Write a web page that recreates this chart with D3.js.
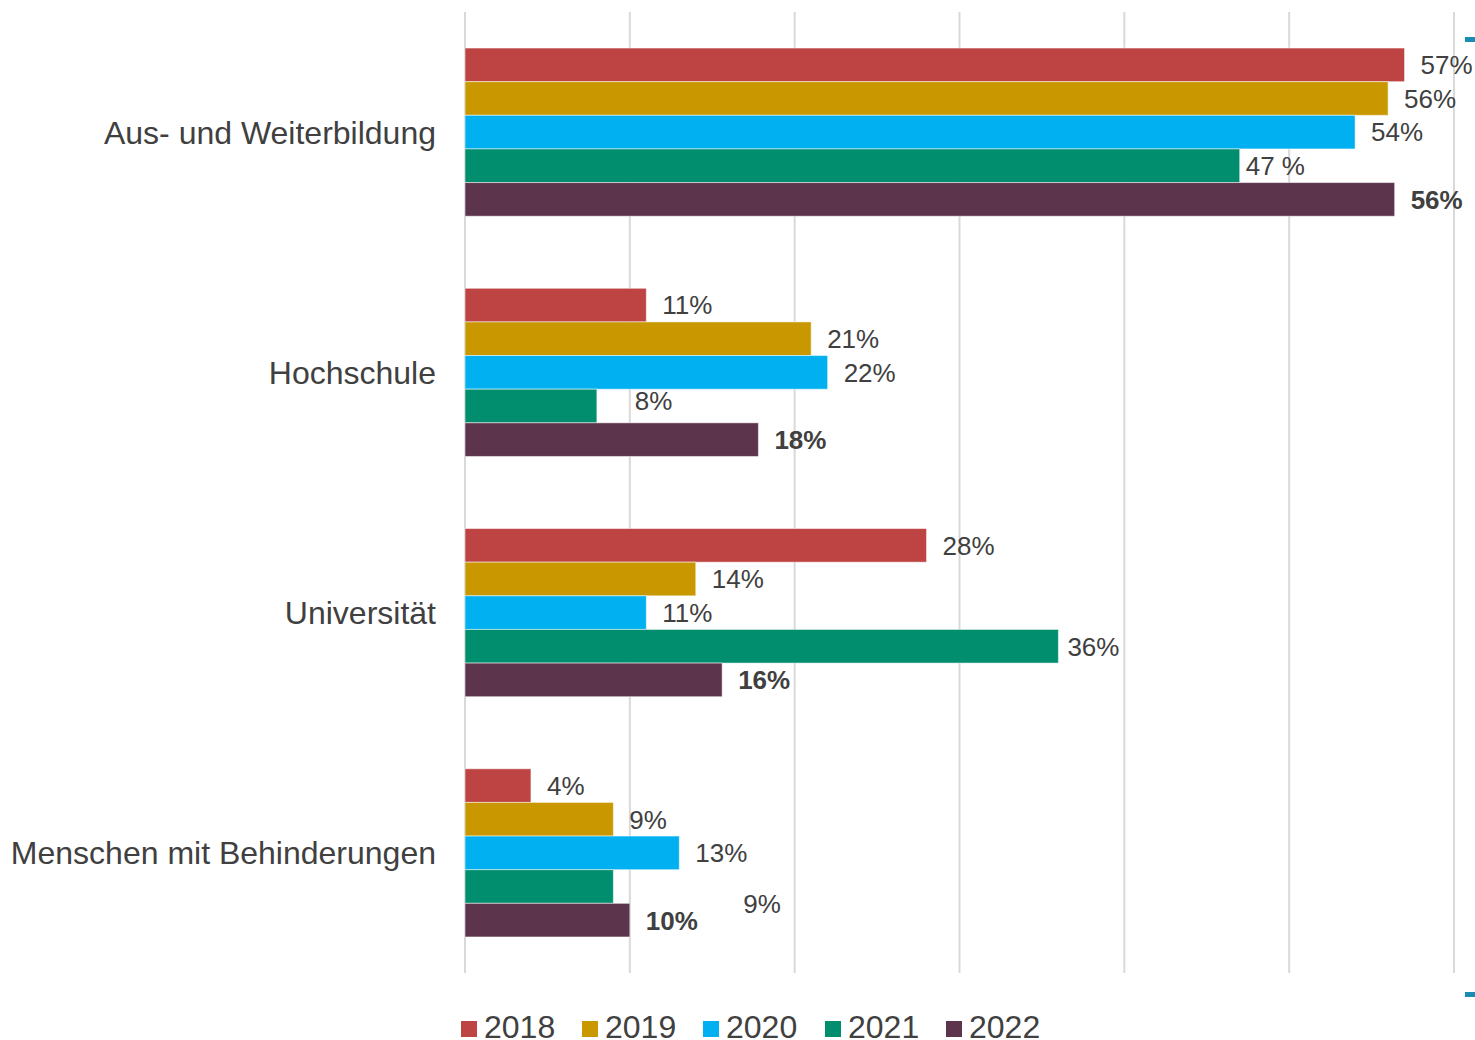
<!DOCTYPE html>
<html>
<head>
<meta charset="utf-8">
<script src="https://cdn.jsdelivr.net/npm/d3@7"></script>
<style>
  body { margin: 0; background: #fff; }
  text { font-family: "Liberation Sans", Arial, sans-serif; }
</style>
</head>
<body>
<div id="chart"></div>
<script>
// data
var categories = ["Aus- und Weiterbildung", "Hochschule", "Universität", "Menschen mit Behinderungen"];
var years = ["2018", "2019", "2020", "2021", "2022"];
var v2018 = [57, 11, 28, 4];
var v2019 = [56, 21, 14, 9];
var v2020 = [54, 22, 11, 13];
var v2021 = [47, 8, 36, 9];
var v2022 = [56.4, 17.8, 15.6, 10];
var xTicks = [0, 10, 20, 30, 40, 50, 60];
var colors = ["#be4343", "#c99700", "#00b0f0", "#008e6e", "#5c344c"];

var series = [v2018, v2019, v2020, v2021, v2022];

// label nudges where the original labels sit off the bar end
var nudge = { "0-3": [-10, 0], "1-3": [22, -5], "2-3": [-7, 0], "3-3": [114, 17] };

var W = 1475, H = 1040;
var svg = d3.select("#chart").append("svg")
    .attr("width", W)
    .attr("height", H);

var x = d3.scaleLinear().domain([0, 60]).range([465, 1454]);
var y = d3.scaleBand().domain(categories).range([12, 973]).paddingInner(0.3).paddingOuter(0.15);
var y1 = d3.scaleBand().domain(years).range([0, y.bandwidth()]);

// gridlines
svg.append("g").selectAll("line")
    .data(xTicks)
    .enter().append("line")
    .attr("x1", function(d) { return x(d); })
    .attr("x2", function(d) { return x(d); })
    .attr("y1", 12)
    .attr("y2", 973)
    .attr("stroke", "#d9d9d9")
    .attr("stroke-width", 2);

// flatten
var rows = [];
categories.forEach(function(c, ci) {
  years.forEach(function(yr, si) {
    rows.push({ cat: c, ci: ci, year: yr, si: si, v: series[si][ci] });
  });
});

svg.append("g").selectAll("rect")
    .data(rows)
    .enter().append("rect")
    .attr("x", x(0))
    .attr("y", function(d) { return y(d.cat) + y1(d.year); })
    .attr("width", function(d) { return x(d.v) - x(0); })
    .attr("height", y1.bandwidth())
    .attr("fill", function(d) { return colors[d.si]; })
    .attr("stroke", "#ffffff")
    .attr("stroke-opacity", 0.5)
    .attr("stroke-width", 1);

svg.append("g").selectAll("text")
    .data(rows)
    .enter().append("text")
    .text(function(d) { return (d.ci === 0 && d.si === 3) ? Math.round(d.v) + " %" : Math.round(d.v) + "%"; })
    .attr("x", function(d) {
      var n = nudge[d.ci + "-" + d.si];
      return x(d.v) + 16 + (n ? n[0] : 0);
    })
    .attr("y", function(d) {
      var n = nudge[d.ci + "-" + d.si];
      return y(d.cat) + y1(d.year) + y1.bandwidth() / 2 + (n ? n[1] : 0);
    })
    .attr("dy", "0.36em")
    .attr("font-size", "26px")
    .attr("font-weight", function(d) { return d.si === 4 ? "bold" : "normal"; })
    .attr("fill", "#404040");

// category labels
svg.append("g").selectAll("text")
    .data(categories)
    .enter().append("text")
    .text(function(d) { return d; })
    .attr("x", 436)
    .attr("y", function(d) { return y(d) + y.bandwidth() / 2; })
    .attr("dy", "0.36em")
    .attr("text-anchor", "end")
    .attr("font-size", "32px")
    .attr("fill", "#404040");

// legend
var legX = [461, 582, 703, 825, 946];
var leg = svg.append("g").selectAll("g")
    .data(years)
    .enter().append("g")
    .attr("transform", function(d, i) { return "translate(" + legX[i] + ",1021)"; });
leg.append("rect")
    .attr("width", 16)
    .attr("height", 16)
    .attr("fill", function(d, i) { return colors[i]; });
leg.append("text")
    .text(function(d) { return d; })
    .attr("x", 23)
    .attr("y", 17)
    .attr("font-size", "32px")
    .attr("fill", "#404040");

// small blue marks at right edge
[37, 992].forEach(function(yy) {
  svg.append("rect")
      .attr("x", 1465).attr("y", yy)
      .attr("width", 10).attr("height", 5)
      .attr("fill", "#1a8cb4");
});
</script>
</body>
</html>
